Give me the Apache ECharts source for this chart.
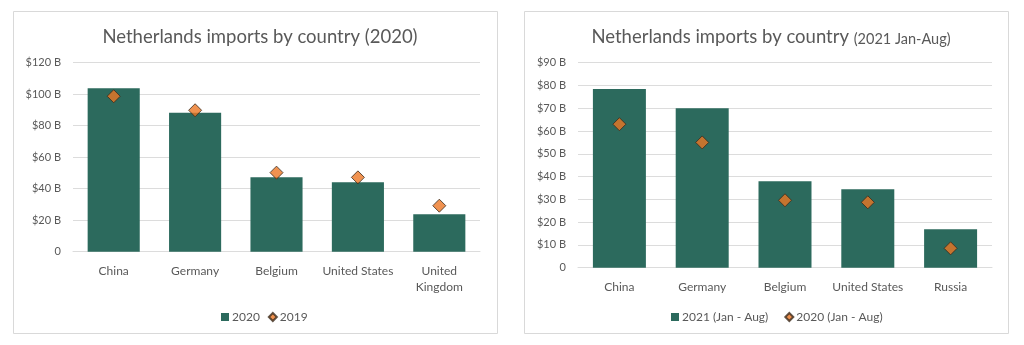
<!DOCTYPE html>
<html>
<head>
<meta charset="utf-8">
<script src="https://cdn.jsdelivr.net/npm/echarts@6/dist/echarts.min.js"></script>
<style>
  html, body { margin: 0; padding: 0; background: #ffffff; }
  #chart { width: 1024px; height: 345px; }
</style>
</head>
<body>
<div id="chart"></div>
<script>
// Netherlands imports by country, US$ billions
const countries2020 = ['China', 'Germany', 'Belgium', 'United States', 'United\nKingdom'];
const imports2020 = [103.7, 88.3, 47.2, 44.1, 23.7];
const imports2019 = [98.7, 89.8, 50.2, 47.2, 29.2];

const countries2021 = ['China', 'Germany', 'Belgium', 'United States', 'Russia'];
const imports2021JanAug = [78.5, 70.0, 37.9, 34.4, 16.9];
const imports2020JanAug = [63.0, 55.0, 29.6, 28.7, 8.5];

const BAR = '#2c6a5d';
const DOT = '#ec7724';
const DOT_EDGE = '#3b2a1c';
const TEXT = '#595959';
const GRID = '#dcdcdc';
const FONT = 'Lato, "Open Sans", sans-serif';

const money = v => (v === 0 ? '0' : '$' + v + ' B');

function valueAxis(idx, max, interval) {
  return {
    type: 'value', gridIndex: idx, min: 0, max: max, interval: interval,
    axisLine: { show: false }, axisTick: { show: false },
    splitLine: { lineStyle: { color: GRID, width: 1 } },
    axisLabel: { color: TEXT, fontSize: 11, fontFamily: FONT, margin: 12, formatter: money }
  };
}
function catAxis(idx, cats) {
  return {
    type: 'category', gridIndex: idx, data: cats,
    axisLine: { lineStyle: { color: GRID } }, axisTick: { show: false },
    axisLabel: { color: TEXT, fontSize: 12, fontFamily: FONT, margin: 11, lineHeight: 16, interval: 0 }
  };
}

const legendText = { color: TEXT, fontSize: 12, fontFamily: FONT, padding: [0, 0, 0, -2] };

const chart = echarts.init(document.getElementById('chart'), null, { renderer: 'canvas' });
chart.setOption({
  backgroundColor: '#ffffff',
  animation: false,
  graphic: [
    { type: 'rect', shape: { x: 13.5, y: 11.5, width: 484, height: 322 },
      style: { fill: 'none', stroke: '#d9d9d9', lineWidth: 1 }, z: -1 },
    { type: 'rect', shape: { x: 524.5, y: 11.5, width: 484, height: 322 },
      style: { fill: 'none', stroke: '#d9d9d9', lineWidth: 1 }, z: -1 }
  ],
  title: [
    { text: 'Netherlands imports by country (2020)', left: 255, top: 23, textAlign: 'center',
      textStyle: { color: TEXT, fontSize: 18.5, fontWeight: 'normal', fontFamily: FONT } },
    { text: '{a|Netherlands imports by country }{b|(2021 Jan-Aug)}', left: 766, top: 23, textAlign: 'center',
      textStyle: { fontWeight: 'normal', rich: {
        a: { color: TEXT, fontSize: 18.5, fontWeight: 'normal', fontFamily: FONT },
        b: { color: TEXT, fontSize: 14.5, fontWeight: 'normal', fontFamily: FONT, padding: [3, 0, 0, 0] }
      } } }
  ],
  legend: [
    { data: [{ name: '2020', icon: 'rect' }, { name: '2019', icon: 'diamond' }],
      left: 216, top: 306, itemWidth: 8, itemHeight: 8, itemGap: 8,
      textStyle: legendText, selectedMode: false },
    { data: [{ name: '2021 (Jan - Aug)', icon: 'rect' }, { name: '2020 (Jan - Aug)', icon: 'diamond' }],
      left: 666, top: 306, itemWidth: 8, itemHeight: 8, itemGap: 16,
      textStyle: legendText, selectedMode: false }
  ],
  grid: [
    { left: 73, right: 544, top: 62.7, bottom: 93.3, containLabel: false },
    { left: 578, right: 32, top: 62.7, bottom: 77.3, containLabel: false }
  ],
  xAxis: [catAxis(0, countries2020), catAxis(1, countries2021)],
  yAxis: [valueAxis(0, 120, 20), valueAxis(1, 90, 10)],
  series: [
    { name: '2020', type: 'bar', xAxisIndex: 0, yAxisIndex: 0, data: imports2020,
      barWidth: '64%', itemStyle: { color: BAR } },
    { name: '2019', type: 'scatter', xAxisIndex: 0, yAxisIndex: 0, data: imports2019,
      symbol: 'diamond', symbolSize: 13,
      itemStyle: { color: DOT, borderColor: DOT_EDGE, borderWidth: 1 } },
    { name: '2021 (Jan - Aug)', type: 'bar', xAxisIndex: 1, yAxisIndex: 1, data: imports2021JanAug,
      barWidth: '64%', itemStyle: { color: BAR } },
    { name: '2020 (Jan - Aug)', type: 'scatter', xAxisIndex: 1, yAxisIndex: 1, data: imports2020JanAug,
      symbol: 'diamond', symbolSize: 13,
      itemStyle: { color: DOT, borderColor: DOT_EDGE, borderWidth: 1 } }
  ]
});
</script>
</body>
</html>
